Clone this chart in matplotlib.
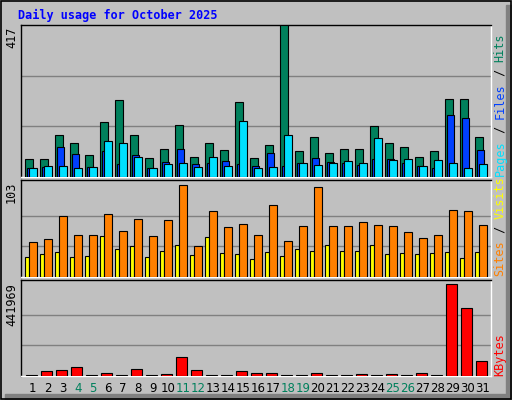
import matplotlib
matplotlib.use("Agg")
import matplotlib.pyplot as plt
from matplotlib.patches import Rectangle
import numpy as np

days = list(range(1, 32))
weekend_days = [4, 5, 11, 12, 18, 19, 25, 26]
hits = [50, 50, 114, 94, 59, 152, 210, 114, 53, 78, 144, 56, 94, 75, 207, 53,
        89, 417, 70, 111, 67, 78, 78, 141, 92, 83, 56, 72, 213, 213, 111]
files = [24, 28, 81, 64, 28, 70, 37, 59, 26, 42, 78, 37, 39, 45, 37, 31,
         67, 31, 39, 53, 42, 39, 34, 50, 50, 39, 31, 26, 169, 163, 75]
pages = [26, 31, 31, 26, 28, 100, 92, 56, 26, 37, 39, 28, 56, 31, 155, 26,
         28, 116, 39, 34, 39, 45, 39, 108, 48, 50, 31, 48, 39, 26, 37]
visits = [39, 43, 68, 47, 47, 71, 52, 65, 46, 64, 103, 35, 74, 56, 59, 47,
          81, 40, 57, 101, 57, 57, 62, 58, 57, 50, 44, 47, 75, 74, 58]
sites = [22, 26, 28, 22, 24, 46, 31, 35, 22, 29, 36, 25, 45, 27, 26, 20,
         28, 24, 31, 29, 36, 29, 29, 36, 26, 27, 26, 27, 28, 21, 28]
kbytes = [3000, 24300, 29100, 43700, 3000, 14600, 3000, 34000, 3000, 9700, 92300,
          29100, 3000, 3000, 24300, 14600, 14600, 3000, 3000, 14600, 3000, 3000,
          9700, 3000, 9700, 3000, 14600, 3000, 441969, 325400, 72800]

W, H = 512, 400
BG = "#c0c0c0"
fig = plt.figure(figsize=(W / 100, H / 100), dpi=100, facecolor=BG)

ov = fig.add_axes([0, 0, 1, 1])
ov.set_xlim(0, W); ov.set_ylim(H, 0); ov.axis("off")
ov.add_patch(Rectangle((506, 5), 6, 395, color="#808080", zorder=0))
ov.add_patch(Rectangle((5, 394), 507, 6, color="#808080", zorder=0))
ov.add_patch(Rectangle((0.5, 0.5), 510, 398, fill=False, ec="black", lw=1.2))
ov.text(18, 15, "Daily usage for October 2025", color="#0000ff", fontsize=8.5,
        fontweight="bold", family="DejaVu Sans Mono", va="center", ha="left")

x = np.array(days, dtype=float)
XL = (0.49, 31.84)
PL, PR = 20.7, 491.0

def panel(top, bottom):
    ax = fig.add_axes([PL / W, 1 - bottom / H, (PR - PL) / W, (bottom - top) / H])
    ax.set_facecolor(BG)
    ax.set_xlim(*XL)
    ax.set_xticks([]); ax.set_yticks([])
    for s in ax.spines.values():
        s.set_linewidth(1.0)
    ax.spines["top"].set_color("black"); ax.spines["left"].set_color("black")
    ax.spines["right"].set_color("white"); ax.spines["bottom"].set_color("white")
    return ax

kw = dict(edgecolor="black", linewidth=0.8, align="edge", zorder=3)

ax1 = panel(25, 177)
ax1.set_ylim(0, 417)
for g in (139, 278):
    ax1.axhline(g, color="#808080", lw=1, zorder=1)
ax1.bar(x - 0.2, hits, width=0.49, color="#00805c", **kw)
ax1.bar(x - 0.09, files, width=0.49, color="#0040ff", **kw)
ax1.bar(x + 0.07, pages, width=0.49, color="#00e0ff", **kw)

ax2 = panel(180, 277)
ax2.set_ylim(0, 103 * 97 / 92)
for g in (103 / 3, 103 * 2 / 3):
    ax2.axhline(g, color="#808080", lw=1, zorder=1)
ax2.bar(x - 0.2, sites, width=0.27, color="#ffff00", **kw)
ax2.bar(x + 0.07, visits, width=0.49, color="#ff8000", **kw)

ax3 = panel(280, 376)
ax3.set_ylim(0, 441969 * 95 / 91)
for g in (441969 / 3, 441969 * 2 / 3):
    ax3.axhline(g, color="#808080", lw=1, zorder=1)
ax3.bar(x - 0.15, kbytes, width=0.7, color="#ff0000", **kw)

for ytop, lab in ((27, "417"), (182, "103"), (283, "441969")):
    ov.text(18, ytop, lab, rotation=90, ha="right", va="top", fontsize=8.5,
            family="DejaVu Sans Mono", color="black")

fig.canvas.draw()
renderer = fig.canvas.get_renderer()

def vlegend(ybottom, parts):
    y = ybottom
    for txt, col in parts:
        t = ov.text(500, y, txt, rotation=90, ha="center", va="bottom",
                    fontsize=8.5, family="DejaVu Sans Mono", color=col)
        bb = t.get_window_extent(renderer)
        y -= bb.height

vlegend(176, [("Pages", "#00e0ff"), (" / ", "black"), ("Files", "#0040ff"),
              (" / ", "black"), ("Hits", "#00805c")])
vlegend(276, [("Sites", "#ff8000"), (" / ", "black"), ("Visits", "#ffff00")])
vlegend(376, [("KBytes", "#ff0000")])

for d in days:
    px = PL + (d + 0.3 - XL[0]) / (XL[1] - XL[0]) * (PR - PL)
    col = "#00805c" if d in weekend_days else "black"
    ov.text(px, 389, str(d), ha="center", va="center", fontsize=8.5,
            color=col, family="DejaVu Sans")

fig.savefig("out.png", dpi=100, facecolor=BG)
